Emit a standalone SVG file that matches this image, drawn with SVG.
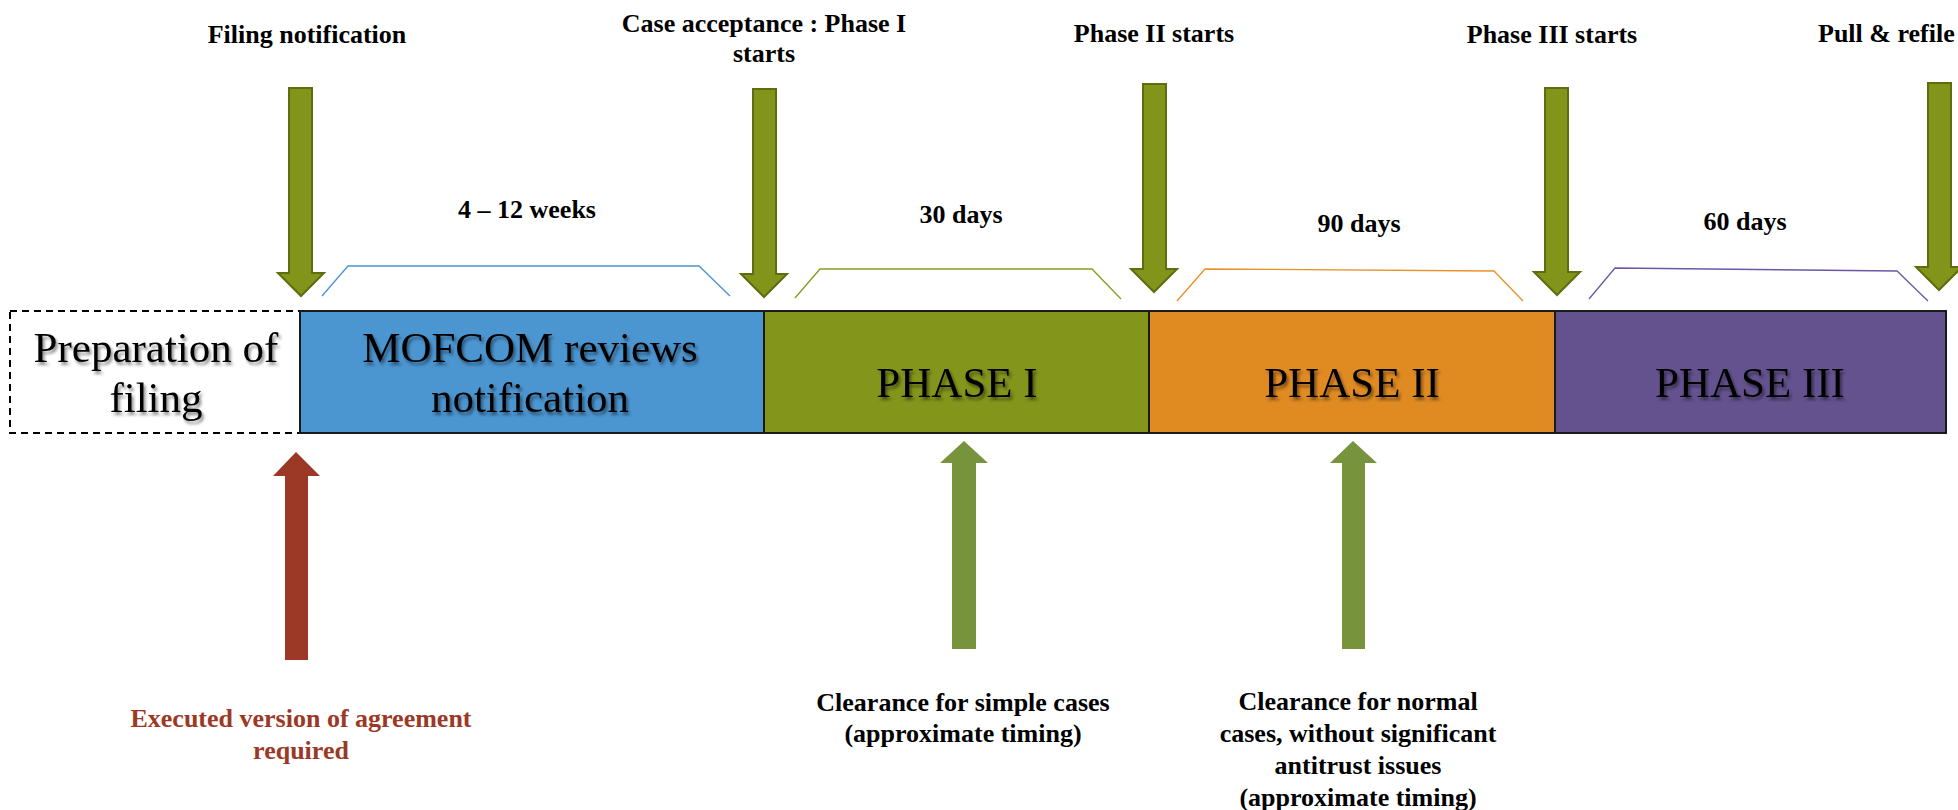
<svg xmlns="http://www.w3.org/2000/svg" width="1958" height="810" viewBox="0 0 1958 810">
<defs>
<filter id="sh" x="-10%" y="-20%" width="120%" height="150%">
<feDropShadow dx="2" dy="3" stdDeviation="1.5" flood-color="#000" flood-opacity="0.45"/>
</filter>
</defs>
<style>
.lbl{font-family:"Liberation Serif","Times New Roman",serif;font-weight:bold;font-size:26px;fill:#000;text-anchor:middle}
.red{fill:#9c3826}
.big{font-family:"Liberation Serif","Times New Roman",serif;font-size:43px;fill:#000;text-anchor:middle;filter:url(#sh)}
.seg{stroke:#1a1a1a;stroke-width:2}
.darr{fill:#829419;stroke:#5f6d10;stroke-width:2;stroke-linejoin:miter}
.uarr{fill:#77933c}
.brk{fill:none;stroke-width:1.3}
</style>
<rect width="1958" height="810" fill="#fff"/>

<g id="prep">
<rect x="10" y="311" width="290" height="122" fill="#fff" stroke="#000" stroke-width="2" stroke-dasharray="7,5"/>
<text class="big" x="156" y="362">Preparation of</text>
<text class="big" x="156" y="412">filing</text>
</g>
<g id="mofcom">
<rect class="seg" x="300" y="311" width="464" height="122" fill="#4b95d0"/>
<text class="big" x="530" y="362">MOFCOM reviews</text>
<text class="big" x="530" y="412">notification</text>
</g>
<g id="phase1">
<rect class="seg" x="764" y="311" width="385" height="122" fill="#84951b"/>
<text class="big" x="957" y="397">PHASE I</text>
</g>
<g id="phase2">
<rect class="seg" x="1149" y="311" width="406" height="122" fill="#e08a22"/>
<text class="big" x="1352" y="397">PHASE II</text>
</g>
<g id="phase3">
<rect class="seg" x="1555" y="311" width="391" height="122" fill="#64528f"/>
<text class="big" x="1750" y="397">PHASE III</text>
</g>

<g id="connectors">
<polygon class="darr" points="289,88 312,88 312,273 324,273 301,296 278,273 289,273"/>
<polygon class="darr" points="753,89 776,89 776,274 787,274 764,297 741,274 753,274"/>
<polygon class="darr" points="1143,84 1166,84 1166,269 1177,269 1154,292 1131,269 1143,269"/>
<polygon class="darr" points="1545,88 1568,88 1568,272 1580,272 1557,295 1534,272 1545,272"/>
<polygon class="darr" points="1928,83 1951,83 1951,267 1962,267 1939,290 1916,267 1928,267"/>
<polygon fill="#9c3826" points="296,452 320,476 308,476 308,660 285,660 285,476 273,476"/>
<polygon class="uarr" points="964,441 988,463 976,463 976,649 952,649 952,463 940,463"/>
<polygon class="uarr" points="1353,441 1377,463 1365,463 1365,649 1342,649 1342,463 1330,463"/>
<polyline class="brk" stroke="#4a93d4" points="322,296 348,266 699,266 730,296"/>
<polyline class="brk" stroke="#8a9a1e" points="795,298 820,269 1092,269 1121,299"/>
<polyline class="brk" stroke="#e8902a" points="1177,301 1205,269 1494,271 1523,301"/>
<polyline class="brk" stroke="#6a58a6" points="1589,299 1615,268 1897,271 1928,301"/>
</g>

<g id="top-labels">
<text class="lbl" x="307" y="43">Filing notification</text>
<text class="lbl" x="764" y="32">Case acceptance : Phase I</text>
<text class="lbl" x="764" y="62">starts</text>
<text class="lbl" x="1154" y="42">Phase II starts</text>
<text class="lbl" x="1552" y="43">Phase III starts</text>
<text class="lbl" x="1818" y="42" style="text-anchor:start">Pull &amp; refile</text>
</g>
<g id="durations">
<text class="lbl" x="527" y="218">4 – 12 weeks</text>
<text class="lbl" x="961" y="223">30 days</text>
<text class="lbl" x="1359" y="232">90 days</text>
<text class="lbl" x="1745" y="230">60 days</text>
</g>
<g id="bottom-labels">
<text class="lbl red" x="301" y="727">Executed version of agreement</text>
<text class="lbl red" x="301" y="759">required</text>
<text class="lbl" x="963" y="711">Clearance for simple cases</text>
<text class="lbl" x="963" y="742">(approximate timing)</text>
<text class="lbl" x="1358" y="710">Clearance for normal</text>
<text class="lbl" x="1358" y="742">cases, without significant</text>
<text class="lbl" x="1358" y="774">antitrust issues</text>
<text class="lbl" x="1358" y="806">(approximate timing)</text>
</g>
</svg>
